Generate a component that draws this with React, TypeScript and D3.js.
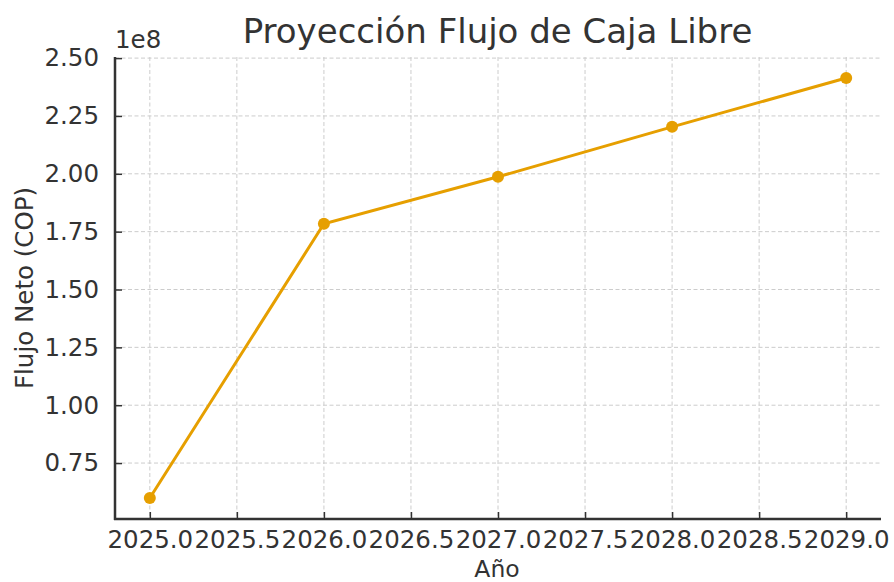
import { useEffect, useRef } from "react";
import * as d3 from "d3";

const years = [2025, 2026, 2027, 2028, 2029];
const flujoNeto = [0.599e8, 1.784e8, 1.987e8, 2.203e8, 2.414e8];
const xTicks = [2025, 2025.5, 2026, 2026.5, 2027, 2027.5, 2028, 2028.5, 2029];
const yTicks = [0.75, 1.0, 1.25, 1.5, 1.75, 2.0, 2.25, 2.5];

const W = 894;
const H = 582;
const FONT = "DejaVu Sans, sans-serif";
const TEXT = "#333333";

const App = () => {
  const ref = useRef<SVGSVGElement | null>(null);

  useEffect(() => {
    const svg = d3.select(ref.current);
    svg.selectAll("*").remove();

    const left = 115, right = 881, top = 57, bottom = 519;

    const yMin = d3.min(flujoNeto)! / 1e8;
    const yMax = d3.max(flujoNeto)! / 1e8;
    const pad = (yMax - yMin) * 0.05;

    const x = d3.scaleLinear().domain([2024.8, 2029.2]).range([left, right]);
    const y = d3.scaleLinear().domain([yMin - pad, yMax + pad]).range([bottom, top]);

    // grid
    const grid = svg.append("g").attr("stroke", "#cccccc").attr("stroke-width", 1).attr("stroke-dasharray", "4,2.5");
    xTicks.forEach((t) => {
      grid.append("line").attr("x1", x(t)).attr("x2", x(t)).attr("y1", top).attr("y2", bottom);
    });
    yTicks.forEach((t) => {
      grid.append("line").attr("x1", left).attr("x2", right).attr("y1", y(t)).attr("y2", y(t));
    });

    // axes
    const xAxis = d3.axisBottom(x).tickValues(xTicks).tickSize(-7).tickPadding(12).tickFormat((d) => (+d).toFixed(1));
    const gx = svg.append("g").attr("transform", `translate(0,${bottom})`).call(xAxis);
    const yAxis = d3.axisLeft(y).tickValues(yTicks).tickSize(-7).tickPadding(16).tickFormat((d) => (+d).toFixed(2));
    const gy = svg.append("g").attr("transform", `translate(${left},0)`).call(yAxis);

    [gx, gy].forEach((g) => {
      g.select(".domain").remove();
      g.selectAll(".tick line").attr("stroke", TEXT).attr("stroke-width", 1.5);
      g.selectAll(".tick text").attr("fill", TEXT).style("font-family", FONT).style("font-size", "24.5px");
    });

    // spines
    svg.append("line").attr("x1", left).attr("x2", left).attr("y1", top).attr("y2", bottom + 1)
      .attr("stroke", TEXT).attr("stroke-width", 2.5);
    svg.append("line").attr("x1", left - 1).attr("x2", right).attr("y1", bottom).attr("y2", bottom)
      .attr("stroke", TEXT).attr("stroke-width", 2.5);

    // line + markers
    const pts = years.map((yr, i) => [yr, flujoNeto[i] / 1e8] as [number, number]);
    const line = d3.line<[number, number]>().x((d) => x(d[0])).y((d) => y(d[1]));
    svg.append("path").datum(pts).attr("d", line).attr("fill", "none")
      .attr("stroke", "#E69F00").attr("stroke-width", 3);
    svg.selectAll(".pt").data(pts).join("circle")
      .attr("cx", (d) => x(d[0])).attr("cy", (d) => y(d[1])).attr("r", 6).attr("fill", "#E69F00");

    // texts
    const txt = (s: string) => svg.append("text").text(s).attr("fill", TEXT).style("font-family", FONT);
    txt("1e8").attr("x", left).attr("y", 48).style("font-size", "24.5px");
    txt("Proyección Flujo de Caja Libre").attr("x", 497.5).attr("y", 43)
      .attr("text-anchor", "middle").style("font-size", "34px");
    txt("Año").attr("x", 497).attr("y", 576.5).attr("text-anchor", "middle").style("font-size", "23.5px");
    txt("Flujo Neto (COP)").attr("transform", `translate(33,${(top + bottom) / 2}) rotate(-90)`)
      .attr("text-anchor", "middle").style("font-size", "24.5px");
  }, []);

  return (
    <div style={{ position: "fixed", left: 0, top: 0, background: "#fff", width: W, height: H, overflow: "hidden" }}>
      <svg ref={ref} width={W} height={H} style={{ display: "block" }} />
    </div>
  );
};

export default App;
